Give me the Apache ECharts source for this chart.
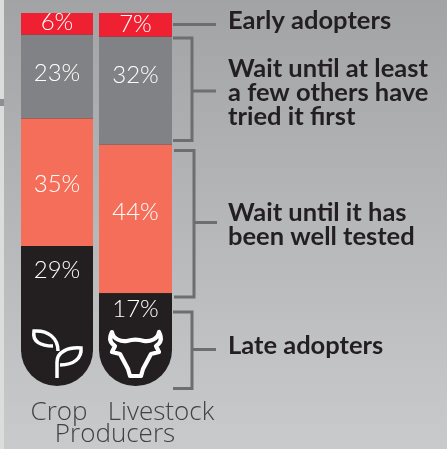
<!DOCTYPE html>
<html>
<head>
<meta charset="utf-8">
<title>Adopters</title>
<script src="https://cdn.jsdelivr.net/npm/echarts@6/dist/echarts.min.js"></script>
<style>
  html, body { margin: 0; padding: 0; }
  #chart { width: 447px; height: 449px; }
</style>
</head>
<body>
<div id="chart"></div>
<script>
const categories = ['Crop', 'Livestock'];
const earlyAdopters = [6, 7];
const waitFewOthers = [23, 32];
const waitWellTested = [35, 44];
const lateAdopters = [29, 17];
// room below the late adopters number for the icon, the black bar end fills it
const iconBase = [9.5, 10.5];

const RED = '#ee2032';
const GREY = '#808285';
const CORAL = '#f56e59';
const BLACK = '#231f20';
const LINE = '#6d6e71';
const AXIS_TEXT = '#414042';

echarts.graphic.registerShape('leafLeft', echarts.graphic.extendPath('M58 351 C58 338 48 330 34 331 C32 342 41 346 53 346', {}));
echarts.graphic.registerShape('leafRight', echarts.graphic.extendPath('M57 378 L57 362 C57 352 68 347 81 348 C82 358 74 365 60 365', {}));
echarts.graphic.registerShape('bull', echarts.graphic.extendPath('M112 332 C109 338 110 343 115 346 L112 352 L120 354 L128 369 L130 376 L141 376 L143 369 L151 354 L159 352 L156 346 C161 343 162 338 159 332 C158 339 150 342 144 341 C138 339 133 339 127 341 C121 342 113 339 112 332 Z', {}));

const myChart = echarts.init(document.getElementById('chart'));

const stacks = [
  { name: 'Early adopters', values: earlyAdopters, color: RED, pos: 'inside', dy: [-2, -1] },
  { name: 'Wait until at least a few others have tried it first', values: waitFewOthers, color: GREY, pos: 'inside', dy: [-3, -15] },
  { name: 'Wait until it has been well tested', values: waitWellTested, color: CORAL, pos: 'inside', dy: [2, -7] },
  { name: 'Late adopters', values: lateAdopters, color: BLACK, pos: 'insideTop', dy: [7, -1], rounded: true },
];

const series = [];
categories.forEach((cat, i) => {
  stacks.forEach((s) => {
    series.push({
      name: s.name,
      type: 'bar',
      stack: cat,
      xAxisIndex: i,
      yAxisIndex: i,
      barWidth: '100%',
      showBackground: !!s.rounded,
      backgroundStyle: { color: BLACK, borderRadius: [0, 0, 36, 36] },
      itemStyle: { color: s.color },
      label: {
        show: true,
        position: s.pos,
        offset: [0, s.dy[i]],
        formatter: '{c}%',
        color: '#ffffff',
        fontFamily: 'Lato',
        fontWeight: 300,
        fontSize: 24,
      },
      data: [s.values[i]],
    });
  });
});

function totalOf(i) {
  return earlyAdopters[i] + waitFewOthers[i] + waitWellTested[i] + lateAdopters[i] + iconBase[i];
}

function bracket(x1, x2, y1, y2, stemY, stemEnd) {
  return [
    { type: 'polyline', shape: { points: [[x1, y1], [x2, y1], [x2, y2], [x1, y2]] }, style: { stroke: LINE, lineWidth: 3, fill: null } },
    { type: 'line', shape: { x1: x2, y1: stemY, x2: stemEnd, y2: stemY }, style: { stroke: LINE, lineWidth: 3 } },
  ];
}

function sideText(x, baseline, text) {
  return {
    type: 'text',
    x: x,
    y: baseline - 20,
    style: { text: text, fill: BLACK, font: 'bold 25.5px Lato' },
  };
}

const iconStroke = { stroke: '#ffffff', lineWidth: 3.5, fill: null };
const bullStroke = { stroke: '#ffffff', lineWidth: 4.2, fill: null, lineJoin: 'round' };

const option = {
  animation: false,
  backgroundColor: new echarts.graphic.LinearGradient(0, 0, 0, 1, [
    { offset: 0, color: '#a2a3a5' },
    { offset: 0.5, color: '#b6b7b9' },
    { offset: 1, color: '#c9cacc' },
  ]),
  grid: [
    { left: 21, top: 13, width: 72, height: 373 },
    { left: 99, top: 13, width: 73, height: 373 },
  ],
  xAxis: categories.map((cat, i) => ({
    type: 'category',
    gridIndex: i,
    data: [cat],
    axisLine: { show: false },
    axisTick: { show: false },
    axisLabel: {
      color: AXIS_TEXT,
      fontFamily: 'Open Sans',
      fontWeight: 300,
      fontSize: 26,
      margin: 14,
      padding: i === 0 ? [0, 0, 0, 4] : [0, 0, 0, 51],
    },
  })),
  yAxis: categories.map((cat, i) => ({
    type: 'value',
    gridIndex: i,
    inverse: true,
    min: 0,
    max: totalOf(i),
    show: false,
  })),
  series: series,
  graphic: [
    { type: 'rect', shape: { x: 0, y: 0, width: 4, height: 449 }, style: { fill: '#dcdcda' } },
    { type: 'rect', shape: { x: 0, y: 99, width: 4, height: 7 }, style: { fill: '#8e8f91' } },
    { type: 'line', shape: { x1: 173, y1: 24.5, x2: 216, y2: 24.5 }, style: { stroke: LINE, lineWidth: 3 } },
    ...bracket(173, 192, 38, 140.5, 91, 216),
    ...bracket(174, 194, 150.5, 297, 222.5, 217),
    ...bracket(173, 192, 312, 388.5, 349.5, 216),
    sideText(228, 28, 'Early adopters'),
    sideText(228, 76, 'Wait until at least'),
    sideText(228, 100, 'a few others have'),
    sideText(228, 124, 'tried it first'),
    sideText(228, 220, 'Wait until it has'),
    sideText(228, 244, 'been well tested'),
    sideText(228, 353, 'Late adopters'),
    {
      type: 'text',
      x: 115,
      y: 443 - 21,
      style: { text: 'Producers', fill: AXIS_TEXT, font: '300 26px "Open Sans"', align: 'center' },
    },
    // icons drawn over the black bar ends
    { type: 'leafLeft', style: iconStroke, silent: true, z: 10 },
    { type: 'leafRight', style: iconStroke, silent: true, z: 10 },
    { type: 'bull', style: bullStroke, silent: true, z: 10 },
  ],
};

option && myChart.setOption(option);
</script>
</body>
</html>
